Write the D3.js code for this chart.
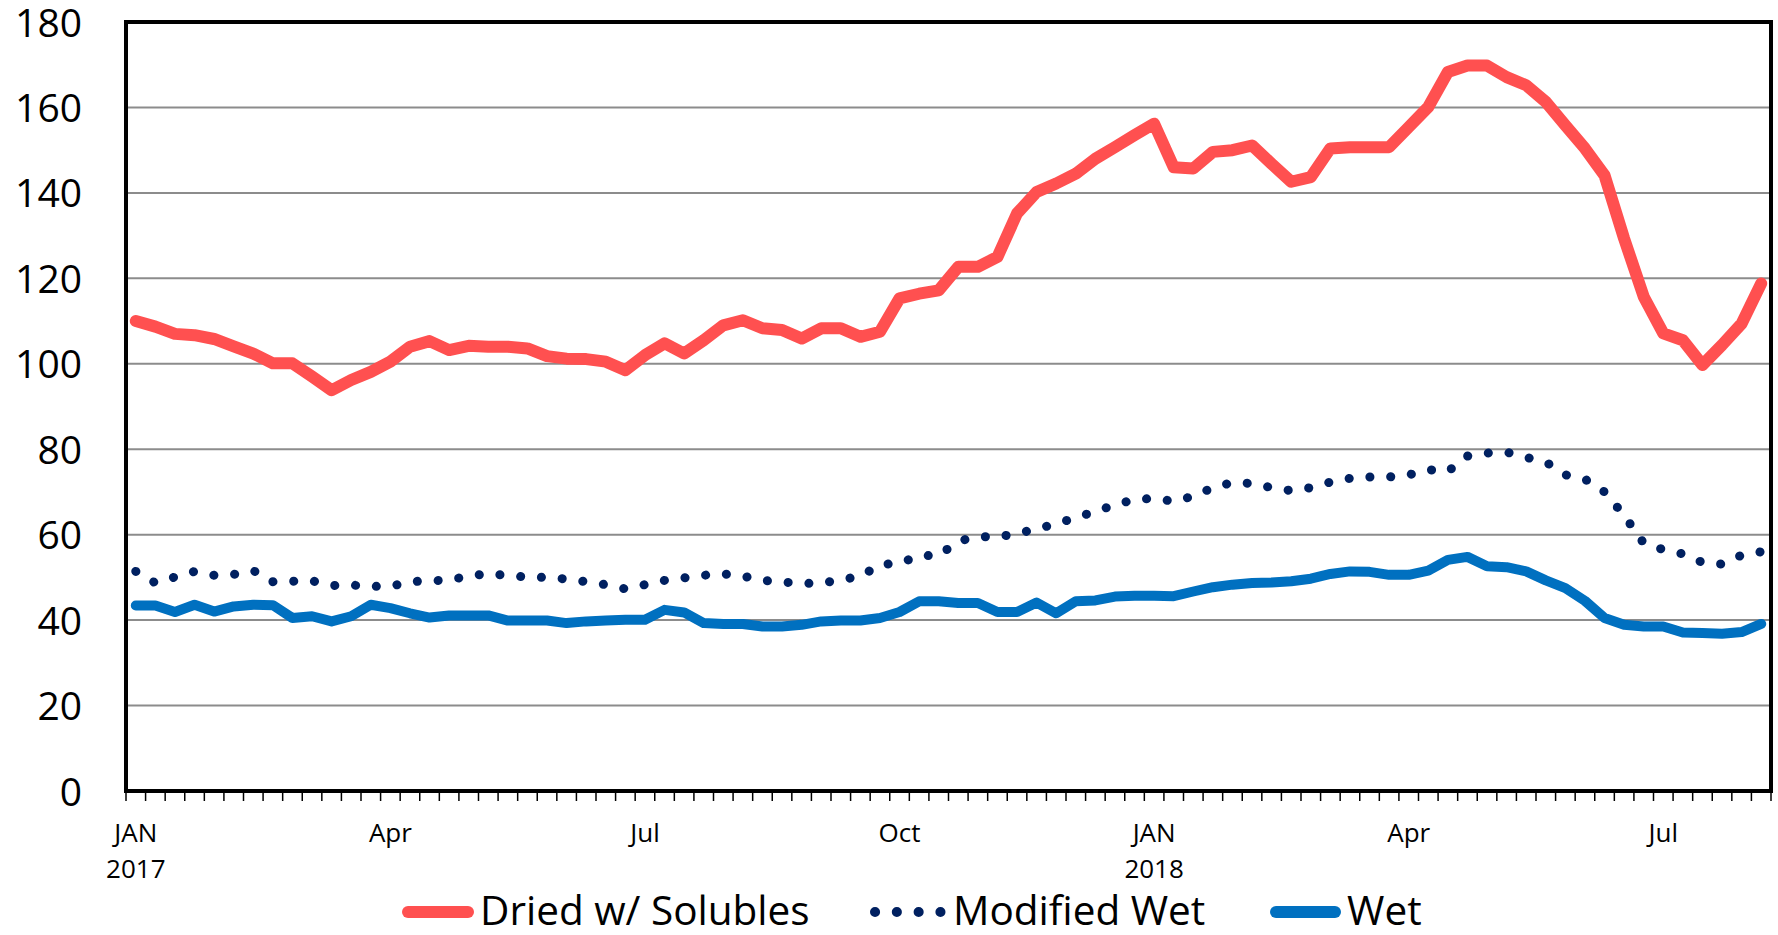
<!DOCTYPE html>
<html>
<head>
<meta charset="utf-8">
<script src="https://cdn.jsdelivr.net/npm/d3@7"></script>
<style>
  body { margin: 0; background: #fff; }
  svg { display: block; font-family: "Open Sans", Lato, sans-serif; }
</style>
</head>
<body>
<svg width="1778" height="935"></svg>
<script>
// weekly prices, Jan 2017 - Aug 2018 (84 weeks)
var weeks = d3.range(84);

var dried = [110.0, 108.7, 107.0, 106.7, 105.8, 104.1, 102.4, 100.1, 100.1, 97.0,
  93.8, 96.2, 98.1, 100.5, 104.0, 105.3, 103.2, 104.2, 104.0, 104.0,
  103.6, 101.8, 101.2, 101.1, 100.5, 98.5, 102.0, 104.8, 102.4, 105.5,
  109.0, 110.2, 108.3, 107.9, 105.9, 108.3, 108.3, 106.3, 107.5, 115.3,
  116.4, 117.2, 122.7, 122.7, 125.0, 135.2, 140.2, 142.2, 144.5, 148.0,
  150.7, 153.5, 156.2, 146.0, 145.7, 149.6, 150.0, 151.1, 146.8, 142.6,
  143.7, 150.4, 150.7, 150.7, 150.7, 155.4, 160.1, 168.3, 169.8, 169.8,
  167.1, 165.2, 161.3, 155.8, 150.4, 144.1, 129.3, 115.7, 107.1, 105.5,
  99.7, 104.4, 109.4, 118.8];

var modified = [51.4, 48.7, 50.1, 51.4, 50.5, 50.7, 51.6, 49.0, 49.1, 49.2,
  48.1, 48.2, 47.9, 47.9, 49.0, 49.2, 49.4, 50.3, 50.9, 50.4,
  50.1, 50.0, 49.6, 49.0, 48.3, 47.3, 48.3, 49.3, 49.9, 50.5,
  50.8, 50.3, 49.3, 48.9, 48.6, 48.6, 49.5, 50.2, 53.0, 53.3,
  55.1, 55.1, 58.5, 59.5, 59.5, 60.2, 61.4, 62.5, 64.0, 65.4,
  67.0, 68.2, 68.5, 67.8, 69.0, 71.0, 72.2, 72.0, 71.0, 70.3,
  71.0, 72.3, 73.2, 73.5, 73.5, 74.0, 75.2, 74.8, 78.4, 79.1,
  79.3, 78.1, 77.0, 74.0, 73.0, 70.0, 64.5, 58.0, 56.5, 55.5,
  53.5, 53.1, 55.2, 56.0];

var wet = [43.4, 43.4, 41.9, 43.6, 42.0, 43.2, 43.6, 43.5, 40.5, 40.9,
  39.7, 40.9, 43.6, 42.8, 41.6, 40.6, 41.1, 41.1, 41.1, 39.9,
  39.9, 39.9, 39.3, 39.7, 39.9, 40.1, 40.1, 42.4, 41.8, 39.3,
  39.1, 39.1, 38.5, 38.5, 38.9, 39.7, 39.9, 39.9, 40.5, 41.9,
  44.4, 44.4, 44.0, 44.0, 41.9, 41.9, 44.1, 41.6, 44.4, 44.6,
  45.5, 45.7, 45.7, 45.6, 46.7, 47.7, 48.3, 48.7, 48.8, 49.1,
  49.7, 50.8, 51.4, 51.3, 50.6, 50.6, 51.6, 54.1, 54.8, 52.6,
  52.4, 51.4, 49.3, 47.5, 44.5, 40.5, 38.9, 38.5, 38.5, 37.1,
  37.0, 36.8, 37.2, 39.1];

var labelWeeks = [0, 13, 26, 39, 52, 65, 78];
var labelText = [["JAN", "2017"], ["Apr"], ["Jul"], ["Oct"], ["JAN", "2018"], ["Apr"], ["Jul"]];
var yTicks = d3.range(0, 181, 20);

var series = [
  { name: "Dried w/ Solubles", values: dried, color: "#ff5050", width: 12, dash: null },
  { name: "Modified Wet", values: modified, color: "#002060", width: 9, dash: "0.1,20.7" },
  { name: "Wet", values: wet, color: "#0070c0", width: 10, dash: null }
];

var svg = d3.select("svg");
var plotLeft = 126, plotRight = 1771, plotTop = 22, plotBottom = 791;

var x = d3.scaleBand().domain(weeks).range([plotLeft, plotRight]).padding(0);
var y = d3.scaleLinear().domain([0, 180]).range([plotBottom, plotTop]);

// gridlines
svg.append("g")
  .selectAll("line")
  .data(yTicks.filter(function(d) { return d > 0 && d < 180; }))
  .enter().append("line")
    .attr("x1", plotLeft).attr("x2", plotRight)
    .attr("y1", function(d) { return y(d); })
    .attr("y2", function(d) { return y(d); })
    .attr("stroke", "#8c8c8c")
    .attr("stroke-width", 2);

// y axis labels
var yAxis = d3.axisLeft(y).tickValues(yTicks).tickSize(0).tickPadding(44);
svg.append("g")
  .attr("transform", "translate(" + plotLeft + ",0)")
  .call(yAxis)
  .call(function(g) { g.select(".domain").remove(); })
  .selectAll("text")
    .attr("font-family", "'Open Sans', Lato, sans-serif")
    .attr("font-size", 39)
    .attr("dy", "0.36em")
    .attr("fill", "#000");

// x tick marks at band boundaries
svg.append("g")
  .selectAll("line")
  .data(d3.range(weeks.length + 1))
  .enter().append("line")
    .attr("x1", function(d) { return plotLeft + d * x.bandwidth(); })
    .attr("x2", function(d) { return plotLeft + d * x.bandwidth(); })
    .attr("y1", plotBottom)
    .attr("y2", plotBottom + 10)
    .attr("stroke", "#000")
    .attr("stroke-width", 1.5);

// x labels
var xl = svg.append("g")
  .selectAll("text")
  .data(labelWeeks)
  .enter().append("text")
    .attr("text-anchor", "middle")
    .attr("font-size", 26)
    .attr("fill", "#000");
xl.each(function(d, i) {
  var t = d3.select(this);
  labelText[i].forEach(function(s, k) {
    t.append("tspan")
      .attr("x", x(d) + x.bandwidth() / 2)
      .attr("y", 842 + k * 36)
      .text(s);
  });
});

// lines
var line = d3.line()
  .x(function(d, i) { return x(weeks[i]) + x.bandwidth() / 2; })
  .y(function(d) { return y(d); });

series.forEach(function(s) {
  svg.append("path")
    .datum(s.values)
    .attr("d", line)
    .attr("fill", "none")
    .attr("stroke", s.color)
    .attr("stroke-width", s.width)
    .attr("stroke-linejoin", "round")
    .attr("stroke-linecap", "round")
    .attr("stroke-dasharray", s.dash);
});

// frame
svg.append("rect")
  .attr("x", plotLeft).attr("y", plotTop)
  .attr("width", plotRight - plotLeft).attr("height", plotBottom - plotTop)
  .attr("fill", "none")
  .attr("stroke", "#000")
  .attr("stroke-width", 4);

// legend
var legendSample = [[408, 468], [875, 941], [1276, 1335]];
var legendTextX = [480, 953, 1347];
var lg = svg.append("g")
  .selectAll("g")
  .data(series)
  .enter().append("g")
    .attr("transform", "translate(0,912)");
lg.append("line")
  .attr("x1", function(d, i) { return legendSample[i][0]; })
  .attr("x2", function(d, i) { return legendSample[i][1]; })
  .attr("y1", 0).attr("y2", 0)
  .attr("stroke", function(d) { return d.color; })
  .attr("stroke-width", function(d) { return d.dash ? 10 : 12; })
  .attr("stroke-linecap", "round")
  .attr("stroke-dasharray", function(d) { return d.dash ? "0.1,21.7" : null; });
lg.append("text")
  .attr("x", function(d, i) { return legendTextX[i]; })
  .attr("y", 13)
  .attr("font-size", 40.5)
  .attr("fill", "#000")
  .text(function(d) { return d.name; });
</script>
</body>
</html>
